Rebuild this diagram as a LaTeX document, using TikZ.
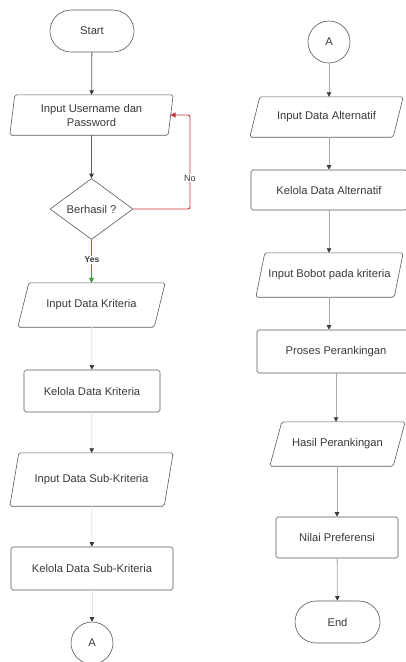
\documentclass[tikz,border=0pt]{standalone}
\usepackage{fontspec}
\setmainfont{Liberation Sans}
\usetikzlibrary{arrows.meta,shapes.geometric,shapes.misc}
\definecolor{txt}{HTML}{3A3A3A}
\definecolor{bord}{HTML}{5A5A5A}
\definecolor{tipc}{HTML}{3C3C3C}
\definecolor{darkln}{HTML}{5E5E5E}
\definecolor{midln}{HTML}{A8A8A8}
\definecolor{faintln}{HTML}{E4E4E4}
\definecolor{nored}{HTML}{C8333A}
\definecolor{yesgreen}{HTML}{3A9A3A}
\newcommand\drawio[2]{\draw[box] ([xshift=#2]#1.north west) -- (#1.north east) -- ([xshift=-#2]#1.south east) -- (#1.south west) -- cycle;}
\begin{document}
\begin{tikzpicture}[x=1pt,y=-1pt,
  lbl/.style={font=\fontsize{11.2}{14}\selectfont, text=txt, align=center, inner sep=0pt},
  box/.style={draw=bord, line width=0.6pt, rounded corners=1.8pt},
  io/.style={lbl, minimum width=#1},
  rectbox/.style={lbl, box, minimum width=#1},
  term/.style={lbl, draw=bord, line width=0.6pt, rounded rectangle, minimum height=42pt, minimum width=#1},
  conn/.style={line width=0.8pt, draw=#1, -{Triangle[length=4.5pt,width=4.5pt,color=tipc]}},
  conn/.default=midln,
  circ/.style={lbl, draw=bord, line width=0.6pt, circle, minimum size=42pt}]
\useasboundingbox (0,0) rectangle (406,662);
\clip (0,0) rectangle (406,662);
\fill[white] (0,0) rectangle (406,662);

% left column
\node[term=84pt] (start) at (92,31) {Start};
\node[io=163pt, minimum height=40pt] (in1) at (91.5,115) {Input Username dan\\Password};
\drawio{in1}{5pt}
\node[lbl, draw=bord, line width=0.6pt, diamond, minimum width=83pt, minimum height=61pt, inner sep=0pt] (dec) at (91.5,209) {Berhasil ?};
\node[io=147pt, minimum height=44pt] (kin) at (91.5,305) {Input Data Kriteria};
\drawio{kin}{11pt}
\node[rectbox=136pt, minimum height=42pt] (kk) at (92,391) {Kelola Data Kriteria};
\node[io=163pt, minimum height=53pt] (sin) at (91.5,479.5) {Input Data Sub-Kriteria};
\drawio{sin}{9pt}
\node[rectbox=162pt, minimum height=43pt] (sk) at (92,568.5) {Kelola Data Sub-Kriteria};
\node[circ] (a1) at (92,643) {A};

% right column
\node[circ] (a2) at (329,42) {A};
\node[io=153pt, minimum height=40pt] (ain) at (326.5,117) {Input Data Alternatif};
\drawio{ain}{10pt}
\node[rectbox=156pt, minimum height=40pt] (ak) at (329,190) {Kelola Data Alternatif};
\node[io=147pt, minimum height=44pt] (bin) at (329.5,275) {Input Bobot pada kriteria};
\drawio{bin}{9pt}
\node[rectbox=158pt, minimum height=43pt] (pp) at (336,351.5) {Proses Perankingan};
\node[io=135pt, minimum height=44pt] (hp) at (337.5,444) {Hasil Perankingan};
\drawio{hp}{12pt}
\node[rectbox=122pt, minimum height=41pt] (np) at (337,537.5) {Nilai Preferensi};
\node[term=85pt] (end) at (337.5,622) {End};

% connectors left
\draw[conn=darkln] (start) -- (in1);
\draw[conn=darkln] (in1) -- (dec);
\coordinate (nocorner) at (190,115);
\coordinate (noend) at (170.5,115);
\draw[line width=0.9pt, draw=nored, rounded corners=2pt, -{Triangle[length=5pt,width=5pt,color=nored]}] (dec.east) -| (nocorner) -- (noend);
\node[font=\fontsize{9}{11}\selectfont, text=txt, fill=white, inner sep=1pt] (nolbl) at (190,178) {No};
\draw[line width=0.9pt, draw=yesgreen, -{Triangle[length=5pt,width=5pt,color=yesgreen]}] (dec.south) -- (kin.north);
\node[font=\bfseries\fontsize{8.5}{10}\selectfont, text=txt, fill=white, inner sep=1pt] (yeslbl) at (92,260) {Yes};
\draw[conn=faintln] (kin) -- (kk);
\draw[conn=faintln] (kk) -- (sin);
\draw[conn=faintln] (sin) -- (sk);
\draw[conn=faintln] (sk) -- (a1);

% connectors right
\draw[conn] (a2) -- (a2 |- ain.north);
\draw[conn] (a2 |- ain.south) -- (a2 |- ak.north);
\draw[conn] (a2 |- ak.south) -- (a2 |- bin.north);
\draw[conn] (a2 |- bin.south) -- (a2 |- pp.north);
\draw[conn] (pp) -- (pp |- hp.north);
\draw[conn] (hp.south -| np) -- (np);
\draw[conn] (np) -- (end);
\end{tikzpicture}
\end{document}
